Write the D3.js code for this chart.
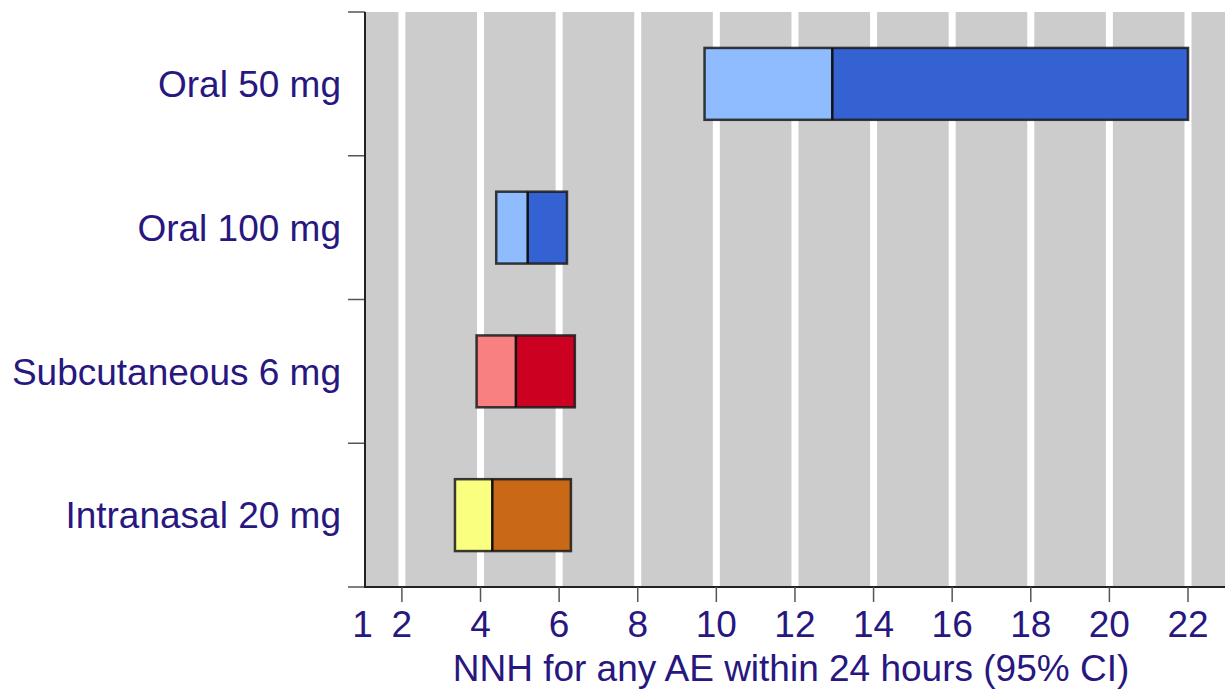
<!DOCTYPE html>
<html>
<head>
<meta charset="utf-8">
<script src="https://cdn.jsdelivr.net/npm/d3@7"></script>
<style>
  body { margin: 0; background: white; }
  svg { display: block; }
</style>
</head>
<body>
<svg id="chart"></svg>
<script>

// ---------- data ----------
let categories = ["Oral 50 mg", "Oral 100 mg", "Subcutaneous 6 mg", "Intranasal 20 mg"];
let lower  = [9.7, 4.4, 3.9, 3.35];
let point  = [12.95, 5.2, 4.9, 4.3];
let upper  = [22, 6.2, 6.4, 6.3];
let lightColors = ["#8fbcff", "#8fbcff", "#f88080", "#faff7f"];
let darkColors  = ["#3562d3", "#3562d3", "#cc0020", "#c96816"];
let xTicks = [1, 2, 4, 6, 8, 10, 12, 14, 16, 18, 20, 22];
let xTitle = "NNH for any AE within 24 hours (95% CI)";

const width = 1225, height = 691;
const plotLeft = 365, plotTop = 12, plotBottom = 587, plotRight = 1225;
const textColor = "#27177f";
const font = "'Liberation Sans', Arial, Helvetica, sans-serif";
const fontSize = 37;

let svg = d3.select("#chart").attr("width", width).attr("height", height);

let x = d3.scaleLinear().domain([1, 22]).range([362.6, 1188]);
let y = d3.scaleBand().domain(categories).range([plotTop, plotBottom])
    .paddingInner(0.5).paddingOuter(0.25);

let rows = categories.map((c, i) => ({
    cat: c, lo: lower[i], mid: point[i], hi: upper[i],
    light: lightColors[i], dark: darkColors[i]
}));

// ---------- background + grid ----------
svg.append("rect")
    .attr("x", plotLeft).attr("y", plotTop)
    .attr("width", plotRight - plotLeft).attr("height", plotBottom - plotTop)
    .attr("fill", "#cccccc");

svg.selectAll("line.grid")
    .data(xTicks.filter(d => d > 1))
    .enter().append("line")
    .attr("class", "grid")
    .attr("x1", d => x(d)).attr("x2", d => x(d))
    .attr("y1", plotTop).attr("y2", plotBottom)
    .attr("stroke", "white").attr("stroke-width", 7);

// ---------- bars ----------
let g = svg.selectAll("g.row").data(rows).enter().append("g").attr("class", "row");

g.append("rect")
    .attr("x", d => x(d.lo)).attr("y", d => y(d.cat))
    .attr("width", d => x(d.mid) - x(d.lo)).attr("height", y.bandwidth())
    .attr("fill", d => d.light);

g.append("rect")
    .attr("x", d => x(d.mid)).attr("y", d => y(d.cat))
    .attr("width", d => x(d.hi) - x(d.mid)).attr("height", y.bandwidth())
    .attr("fill", d => d.dark);

g.append("rect")
    .attr("x", d => x(d.lo)).attr("y", d => y(d.cat))
    .attr("width", d => x(d.hi) - x(d.lo)).attr("height", y.bandwidth())
    .attr("fill", "none").attr("stroke", "#1a1a1a").attr("stroke-width", 2.5)
    .attr("stroke-opacity", 0.85);

g.append("line")
    .attr("x1", d => x(d.mid)).attr("x2", d => x(d.mid))
    .attr("y1", d => y(d.cat)).attr("y2", d => y(d.cat) + y.bandwidth())
    .attr("stroke", "#111").attr("stroke-width", 2.5);

// ---------- y axis ----------
let bounds = d3.range(categories.length + 1).map(i => plotTop + i * y.step());
svg.selectAll("line.ytick").data(bounds).enter().append("line")
    .attr("x1", 348).attr("x2", plotLeft).attr("y1", d => d).attr("y2", d => d)
    .attr("stroke", "#555").attr("stroke-width", 1.5);

svg.append("line")
    .attr("x1", plotLeft).attr("x2", plotLeft).attr("y1", plotTop).attr("y2", plotBottom + 1)
    .attr("stroke", "#222").attr("stroke-width", 2);

svg.selectAll("text.ylab").data(categories).enter().append("text")
    .attr("x", 341).attr("y", d => y(d) + y.bandwidth() / 2)
    .attr("dy", "0.36em")
    .attr("text-anchor", "end")
    .attr("font-family", font).attr("font-size", fontSize)
    .attr("fill", textColor)
    .text(d => d);

// ---------- x axis ----------
svg.append("line")
    .attr("x1", plotLeft - 1).attr("x2", plotRight).attr("y1", plotBottom).attr("y2", plotBottom)
    .attr("stroke", "#222").attr("stroke-width", 2);

svg.selectAll("line.xtick").data(xTicks.filter(d => d > 1)).enter().append("line")
    .attr("x1", d => x(d)).attr("x2", d => x(d))
    .attr("y1", plotBottom).attr("y2", 602)
    .attr("stroke", "#555").attr("stroke-width", 1.5);

svg.selectAll("text.xlab").data(xTicks).enter().append("text")
    .attr("x", d => x(d)).attr("y", 637)
    .attr("text-anchor", "middle")
    .attr("font-family", font).attr("font-size", fontSize)
    .attr("fill", textColor)
    .text(d => d);

svg.append("text")
    .attr("x", 791).attr("y", 681)
    .attr("text-anchor", "middle")
    .attr("font-family", font).attr("font-size", fontSize)
    .attr("fill", textColor)
    .text(xTitle);

</script>
</body>
</html>
